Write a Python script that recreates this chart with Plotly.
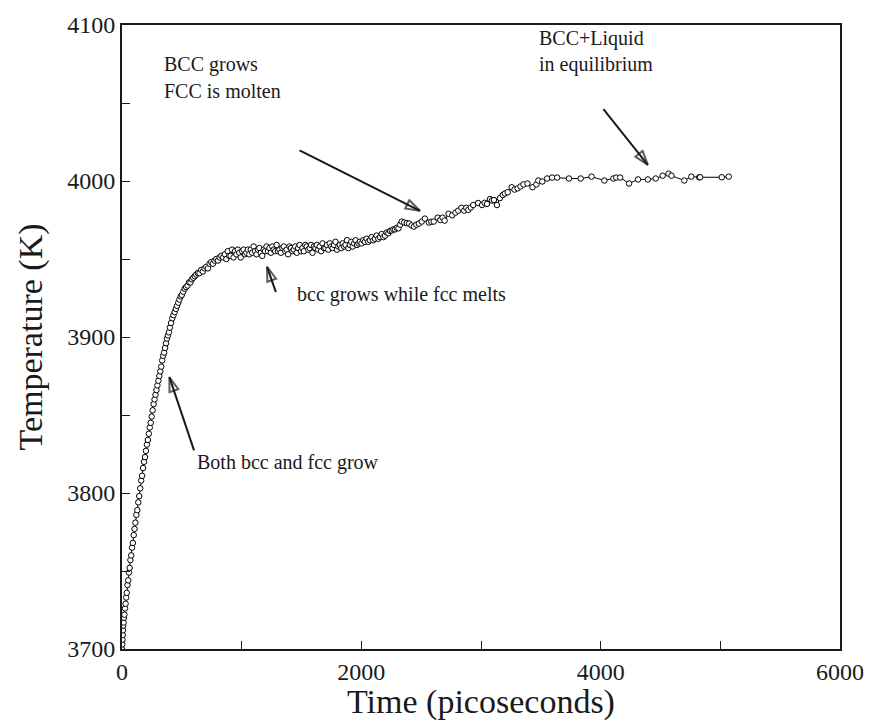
import plotly.graph_objects as go

# ---------------- data ----------------
time_ps = [
    0, 2, 4, 6, 8, 10, 13, 16, 20, 25, 30, 35, 40, 46, 52, 58, 64, 70, 77, 84,
    91, 98, 105, 112, 120, 128, 136, 144, 152, 160, 168, 176, 184, 192, 200, 208,
    216, 224, 232, 240, 248, 256, 264, 272, 280, 288, 296, 304, 312, 320, 328, 336,
    344, 352, 360, 368, 376, 384, 392, 400, 410, 420, 430, 440, 450, 460, 470, 480,
    490, 500, 512, 524, 536, 548, 560, 572, 584, 596, 608, 620, 634, 648, 662, 676,
    690, 704, 718, 732, 746, 760, 774, 788, 802, 816, 830, 845,
    860, 872, 884, 896, 908, 920, 932, 944, 956, 968, 980, 992, 1004, 1016, 1028,
    1040, 1052, 1064, 1076, 1088, 1100, 1112, 1124, 1136, 1148, 1160, 1172, 1184,
    1196, 1208, 1220, 1232, 1244, 1256, 1268, 1280, 1292, 1304, 1316, 1328, 1340,
    1352, 1364, 1376, 1388, 1400, 1412, 1424, 1436, 1448, 1460, 1472, 1484, 1496,
    1508, 1520, 1532, 1544, 1556, 1568, 1580, 1592, 1604, 1616, 1628, 1640, 1652,
    1664, 1676, 1688, 1700, 1712, 1724, 1736, 1748, 1760, 1772, 1784, 1796, 1808,
    1820, 1832, 1844, 1856, 1868, 1880, 1892, 1904, 1916, 1928, 1940, 1952, 1964,
    1976, 1988,
    2002, 2016, 2030, 2044, 2058, 2072, 2086, 2100, 2114, 2128, 2142, 2156, 2170,
    2184, 2198, 2212, 2226, 2240, 2254, 2268, 2282, 2296, 2310, 2324, 2338, 2358,
    2380, 2399, 2420, 2440, 2460, 2481, 2505, 2531, 2564, 2585, 2605, 2638, 2660,
    2679, 2696, 2729, 2760, 2787, 2810, 2836, 2860, 2877, 2894, 2915, 2935, 2976,
    3009, 3030, 3050, 3075, 3092, 3108, 3133, 3158, 3182, 3200, 3223, 3256, 3280,
    3306, 3330, 3355, 3388, 3430, 3463, 3479, 3512, 3553, 3594, 3636, 3735, 3833,
    3924, 4031, 4106, 4130, 4163, 4237, 4312, 4394, 4460, 4518, 4567, 4592, 4699,
    4757, 4823, 4831, 5012, 5070,
]
temperature_K = [
    3700, 3703, 3706, 3709, 3712, 3715, 3717, 3720, 3722, 3726, 3729, 3733, 3736,
    3741, 3744, 3749, 3752, 3757, 3760, 3765, 3768, 3773, 3777, 3781, 3786, 3789,
    3794, 3798, 3803, 3808, 3811, 3816, 3820, 3823, 3827, 3831, 3834, 3838, 3842,
    3845, 3849, 3853, 3857, 3860, 3863, 3866, 3869, 3872, 3875, 3878, 3881, 3885,
    3888, 3890, 3893, 3896, 3899, 3901, 3903, 3906, 3909, 3912, 3914, 3916, 3918,
    3920, 3922, 3924, 3926, 3927, 3929, 3931, 3932, 3933, 3935, 3935, 3937, 3938,
    3939, 3940, 3941, 3941, 3943, 3942, 3944, 3945, 3944, 3947, 3948, 3947, 3949,
    3950, 3949, 3951, 3952, 3951,
    3953, 3950, 3955, 3952, 3952, 3956, 3951, 3955, 3953, 3956, 3954, 3951, 3955,
    3956, 3953, 3954, 3956, 3953, 3956, 3954, 3958, 3955, 3953, 3956, 3957, 3954,
    3952, 3956, 3955, 3958, 3955, 3957, 3954, 3958, 3956, 3955, 3959, 3955, 3956,
    3954, 3957, 3958, 3955, 3956, 3953, 3958, 3957, 3955, 3956, 3958, 3954, 3957,
    3959, 3955, 3957, 3955, 3959, 3958, 3956, 3957, 3959, 3954, 3958, 3957, 3959,
    3956, 3958, 3955, 3960, 3957, 3957, 3959, 3956, 3960, 3958, 3957, 3959, 3961,
    3956, 3958, 3959, 3957, 3960, 3958, 3959, 3962, 3957, 3959, 3961, 3958, 3960,
    3962, 3959, 3960, 3961,
    3960, 3962, 3961, 3963, 3961, 3962, 3964, 3962, 3963, 3965, 3963, 3964, 3966,
    3964, 3965, 3967, 3966.5, 3968, 3968.3, 3969, 3969, 3970, 3969.7, 3972, 3974,
    3973.4, 3973, 3972.7, 3971.5, 3970.8, 3972, 3972.7, 3974, 3975.9, 3973.4, 3973.8,
    3974, 3976.5, 3975, 3976.5, 3974.6, 3979, 3978, 3979.7, 3981, 3982.8, 3981,
    3982.8, 3981.5, 3983, 3984.6, 3985.9, 3984.6, 3986, 3985.3, 3988.4, 3987.5,
    3987.8, 3984.6, 3989, 3991, 3992, 3992.8, 3996, 3994.5, 3995.3, 3996.5, 3997.8,
    3998.4, 3996, 3997.8, 4000.3, 3999.7, 4001.6, 4002.2, 4002.2, 4001.6, 4001.6,
    4002.8, 4000.3, 4001.6, 4002.2, 4002.2, 3998.4, 4001, 4001, 4001.6, 4003.4,
    4004.7, 4003.4, 4000.3, 4002.8, 4002.4, 4002.4, 4002.4, 4002.8,
]

# annotation arrows: (tail time, tail T, tip time, tip T)
arrow_tail_t = [1484, 4023, 1286, 602]
arrow_tail_T = [4019.7, 4046.0, 3928.8, 3827.3]
arrow_tip_t = [2490, 4394, 1212, 396]
arrow_tip_T = [3980.9, 4010.3, 3945.0, 3874.3]

# annotation texts (left edge time, centre T)
label_texts = ["BCC grows", "FCC is molten", "BCC+Liquid", "in equilibrium",
               "bcc grows while fcc melts", "Both bcc and fcc grow"]
label_t = [338, 338, 3466, 3466, 1444, 611]
label_T = [4074.5, 4057.5, 4091.5, 4074.5, 3927.0, 3819.7]

x_ticks = [0, 2000, 4000, 6000]
y_ticks = [3700, 3800, 3900, 4000, 4100]

FONT = "Liberation Serif"
INK = "#1a1a1a"

fig = go.Figure()

fig.add_trace(go.Scatter(
    x=time_ps, y=temperature_K, mode="lines+markers",
    line=dict(color="black", width=1),
    marker=dict(symbol="circle", size=5.5, color="white",
                line=dict(color="black", width=1)),
    showlegend=False, hoverinfo="skip",
))

for i in range(len(arrow_tail_t)):
    fig.add_trace(go.Scatter(
        x=[arrow_tail_t[i], arrow_tip_t[i]],
        y=[arrow_tail_T[i], arrow_tip_T[i]],
        mode="lines+markers",
        line=dict(color=INK, width=2),
        marker=dict(symbol=["circle", "arrow-open"], size=[0, 15],
                    angleref="previous", color=INK,
                    line=dict(color=INK, width=2)),
        showlegend=False, hoverinfo="skip",
    ))

for txt, tx, ty in zip(label_texts, label_t, label_T):
    fig.add_annotation(x=tx, y=ty, xref="x", yref="y", text=txt,
                       showarrow=False, xanchor="left", yanchor="middle",
                       font=dict(family=FONT, size=20, color=INK))

fig.update_layout(
    width=876, height=721,
    margin=dict(l=122, r=27, t=15, b=68),
    paper_bgcolor="white", plot_bgcolor="white",
    font=dict(family=FONT, color=INK),
)
fig.update_xaxes(
    range=[0, 6000], tickvals=x_ticks, ticktext=[str(v) for v in x_ticks],
    ticks="inside", ticklen=8, tickwidth=1.2, tickcolor=INK,
    minor=dict(ticks="inside", dtick=1000, ticklen=8, tickwidth=1.2,
               tickcolor=INK, showgrid=False),
    showline=True, linewidth=2, linecolor=INK, mirror=True,
    showgrid=False, zeroline=False,
    tickfont=dict(family=FONT, size=24, color=INK),
    title=dict(text="Time (picoseconds)", standoff=0,
               font=dict(family=FONT, size=34, color=INK)),
)
fig.update_yaxes(
    range=[3700, 4100], tickvals=y_ticks, ticktext=[str(v) for v in y_ticks],
    ticks="inside", ticklen=8, tickwidth=1.2, tickcolor=INK,
    minor=dict(ticks="inside", dtick=50, ticklen=8, tickwidth=1.2,
               tickcolor=INK, showgrid=False),
    showline=True, linewidth=2, linecolor=INK, mirror=True,
    showgrid=False, zeroline=False,
    tickfont=dict(family=FONT, size=24, color=INK),
    title=dict(text="Temperature (K)", standoff=14,
               font=dict(family=FONT, size=34, color=INK)),
)

fig.write_html("out.html")
